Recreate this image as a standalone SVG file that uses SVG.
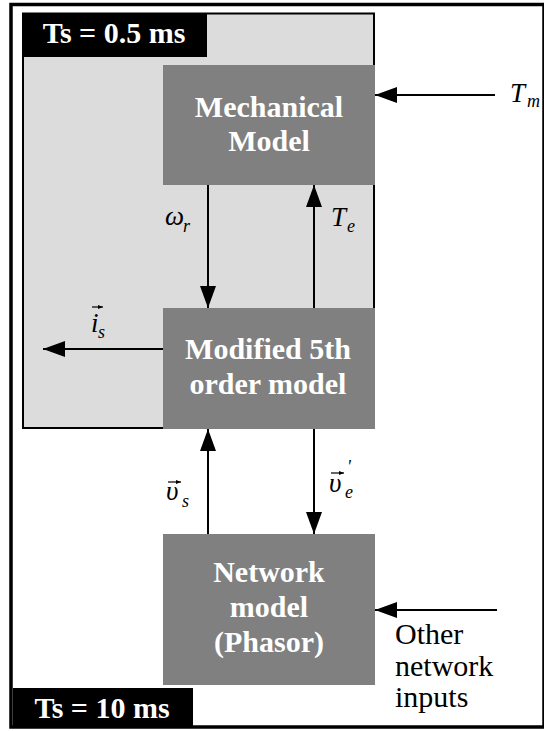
<svg xmlns="http://www.w3.org/2000/svg" width="544" height="731" viewBox="0 0 544 731">
<style>
.box{fill:#808080}
.bt{font-family:"Liberation Serif","Times New Roman",serif;font-weight:bold;font-size:30px;fill:#fff;text-anchor:middle}
.lbl{font-family:"Liberation Serif","Times New Roman",serif;font-weight:bold;font-size:30px;fill:#fff;text-anchor:middle}
.m{font-family:"Liberation Serif","Times New Roman",serif;font-style:italic;font-size:27px;fill:#000}
.sub{font-family:"Liberation Serif","Times New Roman",serif;font-style:italic;font-size:18px;fill:#000}
.plain{font-family:"Liberation Serif","Times New Roman",serif;font-size:30px;fill:#000}
.conn{stroke:#000;stroke-width:2;fill:none}
.vec{stroke:#000;stroke-width:1.2;fill:none}
</style>
<defs>
<marker id="ah" markerUnits="userSpaceOnUse" markerWidth="22" markerHeight="16" refX="22" refY="8" orient="auto">
<path d="M0,0 L22,8 L0,16 z" fill="#000"/>
</marker>
<marker id="va" markerUnits="userSpaceOnUse" markerWidth="5" markerHeight="4" refX="5" refY="2" orient="auto">
<path d="M0,0 L5,2 L0,4 z" fill="#000"/>
</marker>
</defs>
<rect width="544" height="731" fill="#fff"/>
<g id="frame-10ms">
<rect x="11" y="4.5" width="533" height="722.5" fill="#fff" stroke="#000" stroke-width="3.5"/>
<rect x="13" y="688" width="180" height="39" fill="#000"/>
<text class="lbl" x="102" y="718">Ts = 10 ms</text>
</g>
<g id="frame-05ms">
<rect x="23" y="13.5" width="351" height="414.5" fill="#DCDCDC" stroke="#000" stroke-width="2"/>
<rect x="22" y="13" width="185" height="44" fill="#000"/>
<text class="lbl" x="114" y="43">Ts = 0.5 ms</text>
</g>
<g id="mechanical">
<rect class="box" x="163" y="65" width="212" height="120"/>
<text class="bt" x="269" y="117">Mechanical</text>
<text class="bt" x="269" y="151">Model</text>
</g>
<g id="fifth-order">
<rect class="box" x="163" y="308" width="212" height="121"/>
<text class="bt" x="268" y="359">Modified 5th</text>
<text class="bt" x="268" y="394">order model</text>
</g>
<g id="network">
<rect class="box" x="163" y="534" width="212" height="151"/>
<text class="bt" x="269" y="582">Network</text>
<text class="bt" x="269" y="617">model</text>
<text class="bt" x="269" y="652">(Phasor)</text>
</g>
<g id="connectors">
<path class="conn" d="M495,95 L375,95" marker-end="url(#ah)"/>
<path class="conn" d="M208,185 L208,308" marker-end="url(#ah)"/>
<path class="conn" d="M314,308 L314,185" marker-end="url(#ah)"/>
<path class="conn" d="M163,349 L43,349" marker-end="url(#ah)"/>
<path class="conn" d="M208,534 L208,429" marker-end="url(#ah)"/>
<path class="conn" d="M314,429 L314,534" marker-end="url(#ah)"/>
<path class="conn" d="M497,610 L375,610" marker-end="url(#ah)"/>
</g>
<g id="labels">
<text class="m" x="510" y="102">T</text><text class="sub" x="527" y="107">m</text>
<text class="m" x="165" y="225">ω</text><text class="sub" x="183" y="232">r</text>
<text class="m" x="331" y="226">T</text><text class="sub" x="347" y="232">e</text>
<path class="vec" d="M92,307 L103,307" marker-end="url(#va)"/>
<text class="m" x="91" y="332">i</text><text class="sub" x="98" y="338">s</text>
<path class="vec" d="M168,482 L181,482" marker-end="url(#va)"/>
<text class="m" x="166" y="500">υ</text><text class="sub" x="182" y="507">s</text>
<path class="vec" d="M331,473 L344,473" marker-end="url(#va)"/>
<text class="m" x="329" y="492">υ</text><text class="sub" x="345" y="498">e</text><text class="sub" x="347" y="473">'</text>
<text class="plain" x="395" y="644">Other</text>
<text class="plain" x="395" y="676">network</text>
<text class="plain" x="395" y="707">inputs</text>
</g>
</svg>
